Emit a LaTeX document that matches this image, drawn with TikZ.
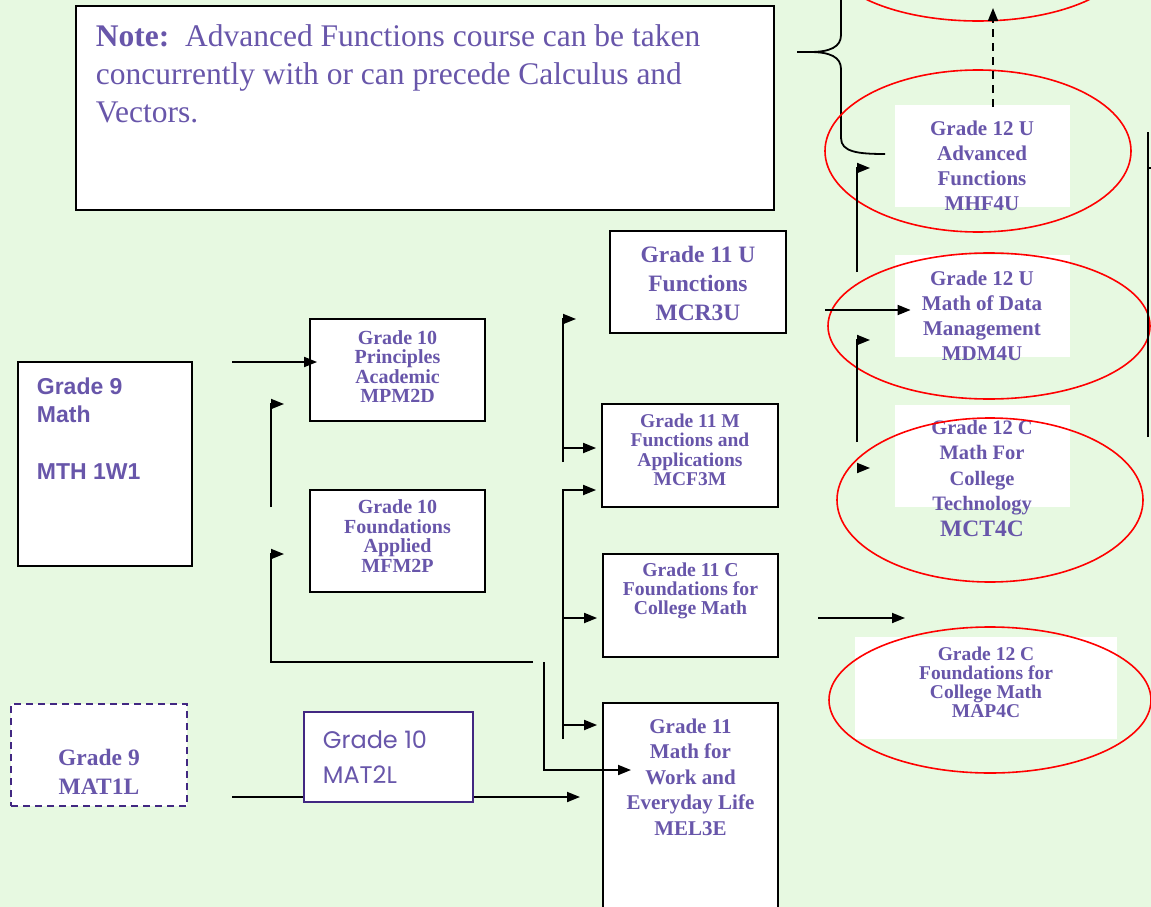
\documentclass[tikz,border=0pt]{standalone}
\usepackage{fontspec}
\setmainfont{Liberation Serif}
\setsansfont{Liberation Sans}
\newfontfamily\gothicfont{Poppins}
\usepackage{tikz}
\usetikzlibrary{shapes.geometric}
\usetikzlibrary{arrows.meta}
\usetikzlibrary{positioning}
\definecolor{bggreen}{RGB}{231,249,225}
\definecolor{coursepurple}{RGB}{104,86,170}
\definecolor{darkpurple}{RGB}{66,40,130}
\tikzset{every picture/.style={line width=1.8pt},
  coursebox/.style={draw=black,fill=white,inner sep=0pt},
  coursetext/.style={text=coursepurple,align=center,inner sep=0pt},
  whitepatch/.style={fill=white,inner sep=0pt,minimum width=175,minimum height=102},
  redoval/.style={ellipse,draw=red,line width=1.6pt,inner sep=0pt},
  arr/.style={-{Triangle[length=13pt,width=10pt]}}}

\begin{document}
\begin{tikzpicture}[x=1pt,y=-1pt]
\useasboundingbox[fill=bggreen] (0,0) rectangle (1151,907);
\clip (0,0) rectangle (1151,907);

% note box
\node[coursebox,minimum width=698,minimum height=204] (note) at (425,108) {};
\node[coursetext,align=left,anchor=north west,font=\fontsize{31.5}{38}\selectfont] (notetext) at (95,24)
  {\textbf{Note:}\ \ Advanced Functions course can be taken\\concurrently with or can precede Calculus and\\Vectors.};
\draw (841,-2) -- (841,35) .. controls (841,47) and (830,52) .. (810,52) -- (797,52);
\draw (810,52) .. controls (830,52) and (841,57) .. (841,69) -- (841,138) .. controls (841,152) and (858,154) .. (885,154);

% grade 12
\node[whitepatch] (mhfpatch) at (982,156) {};
\node[coursetext,font=\bfseries\fontsize{21}{25}\selectfont] (mhf) at (982,165.5) {Grade 12 U\\Advanced\\Functions\\MHF4U};
\node[whitepatch] (mdmpatch) at (982,306) {};
\node[coursetext,font=\bfseries\fontsize{21}{25}\selectfont] (mdm) at (982,315.5) {Grade 12 U\\Math of Data\\Management\\MDM4U};
\node[whitepatch] (mctpatch) at (982,456) {};
\node[coursetext,font=\bfseries\fontsize{20.5}{25.5}\selectfont] (mct) at (982,478) {Grade 12 C\\Math For\\College\\Technology\\{\fontsize{23.5}{27}\selectfont MCT4C}};
\node[whitepatch,minimum width=262] (mappatch) at (986,688) {};
\node[coursetext,font=\bfseries\fontsize{19.5}{19}\selectfont] (map) at (986,682.5) {Grade 12 C\\Foundations for\\College Math\\MAP4C};

\node[redoval,minimum width=300,minimum height=130] (calcoval) at (978,-44) {};
\node[redoval,minimum width=306,minimum height=162] (mhfoval) at (978,151) {};
\node[redoval,minimum width=322,minimum height=146] (mdmoval) at (989,326) {};
\node[redoval,minimum width=306,minimum height=164] (mctoval) at (990,500) {};
\node[redoval,minimum width=322,minimum height=146] (mapoval) at (990,700) {};

\coordinate (dashfoot) at (993,107);
\coordinate (dashtip) at (993,8);
\draw[arr,dash pattern=on 8pt off 6pt] (dashfoot) -- (dashtip);
\coordinate (mhfspine) at (857,272);
\coordinate (mhfflag) at (870,168);
\draw[arr] (mhfspine) |- (mhfflag);
\coordinate (mdmin) at (825,310);
\draw[arr] (mdmin) -- ([xshift=17pt]mdmpatch.west |- mdmin);
\coordinate (mctspine) at (857,442);
\coordinate (mctflag) at (870,340);
\draw[arr] (mctspine) |- (mctflag);
\coordinate (mctstub) at (857,468);
\draw[arr] (mctstub) -- ++(13,0);
\coordinate (mapin) at (818,618);
\draw[arr] (mapin) -- ++(87,0);
\coordinate (rtop) at (1148,132);
\coordinate (rbot) at (1148,437);
\draw (rbot) -- (rtop);
\draw (1148,168) -- (1152,168);

% grade 9 and 10
\node[coursebox,minimum width=174,minimum height=204] (gnine) at (105,464) {};
\node[coursetext,align=left,anchor=west,font=\sffamily\bfseries\fontsize{23}{28.5}\selectfont] (gninetext) at (36,428.5) {Grade 9\\Math\\[28.5pt]MTH 1W1};
\node[coursebox,draw=darkpurple,dash pattern=on 7pt off 5pt,minimum width=176,minimum height=102] (matone) at (99,755) {};
\node[coursetext,font=\bfseries\fontsize{23.5}{29}\selectfont] (matonetext) at (99,771.5) {Grade 9\\MAT1L};

\coordinate (matout) at (232,797);
\coordinate (matin) at (580,797);
\draw[arr] (matout) -- (matin);
\node[coursebox,draw=darkpurple,line width=1.4pt,minimum width=169,minimum height=90] (mattwo) at (388.5,757) {};
\node[coursetext,align=left,anchor=west,font=\gothicfont\fontsize{24}{35}\selectfont] (mattwotext) at (322,757.5) {Grade 10\\MAT2L};

\node[coursebox,minimum width=175,minimum height=102] (mpm) at (397.5,370) {};
\node[coursetext,font=\bfseries\fontsize{20}{19.5}\selectfont] (mpmtext) at (397.5,366.5) {Grade 10\\Principles\\Academic\\MPM2D};
\node[coursebox,minimum width=175,minimum height=102] (mfm) at (397.5,541) {};
\node[coursetext,font=\bfseries\fontsize{20}{19.5}\selectfont] (mfmtext) at (397.5,536) {Grade 10\\Foundations\\Applied\\MFM2P};

\coordinate (gnineout) at (232,362);
\draw[arr] (gnineout) -- ([xshift=8pt]mpm.west |- gnineout);
\coordinate (acadspine) at (271,507);
\coordinate (acadflag) at (284,404);
\draw[arr] (acadspine) |- (acadflag);
\coordinate (applend) at (533,662);
\coordinate (applflag) at (284,554);
\draw[arr] (applend) -| (271,554) -- (applflag);

% grade 11
\node[coursebox,minimum width=176,minimum height=102] (mcr) at (698,282) {};
\node[coursetext,font=\bfseries\fontsize{23.5}{29}\selectfont] (mcrtext) at (698,283) {Grade 11 U\\Functions\\MCR3U};
\node[coursebox,minimum width=176,minimum height=103] (mcf) at (690,455.5) {};
\node[coursetext,font=\bfseries\fontsize{19.5}{19.5}\selectfont] (mcftext) at (690,450) {Grade 11 M\\Functions and\\Applications\\MCF3M};
\node[coursebox,minimum width=175,minimum height=103] (mbf) at (690.5,605.5) {};
\node[coursetext,font=\bfseries\fontsize{19.7}{19}\selectfont] (mbftext) at (690.5,591) {Grade 11 C\\Foundations for\\College Math};
\node[coursebox,minimum width=175,minimum height=227] (mel) at (690.5,816.5) {};
\node[coursetext,font=\bfseries\fontsize{21}{25.5}\selectfont] (meltext) at (690.5,777) {Grade 11\\Math for\\Work and\\Everyday Life\\MEL3E};

\coordinate (uspine) at (563,462);
\coordinate (uflag) at (576,319);
\draw[arr] (uspine) |- (uflag);
\coordinate (uspinemid) at (563,448);
\draw[arr] (uspinemid) -- ([xshift=-5pt]mcf.west |- uspinemid);
\coordinate (cspine) at (563,739);
\coordinate (cspinetop) at (563,490);
\draw[arr] (cspine) -- (cspinetop) -- ([xshift=-5pt]mcf.west |- cspinetop);
\foreach \course/\y in {mbf/618,mel/725}
  \draw[arr] (563,\y) -- ([xshift=-5pt]\course.west |- 563,\y);
\coordinate (melspine) at (544,662);
\coordinate (melin) at (631,770);
\draw[arr] (melspine) |- (melin);
\end{tikzpicture}
\end{document}
